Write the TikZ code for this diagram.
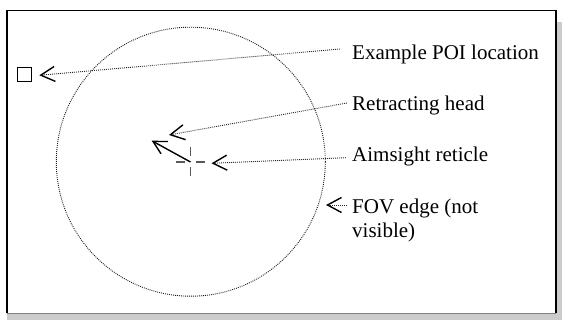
\documentclass[tikz,border=0pt]{standalone}
\usepackage{fontspec}
\setmainfont{Liberation Serif}
\usetikzlibrary{arrows.meta}

\tikzset{
  label/.style={anchor=west, inner sep=0pt, font=\fontsize{21}{24}\selectfont, align=left},
  pointer/.style={line width=0.9pt, black!85, dash pattern=on 0.9pt off 1.1pt,
    -{Straight Barb[length=14pt,width=15pt,line width=1.4pt,black]}},
  reticle/.style={line width=1.3pt, black!65}
}

\begin{document}
\begin{tikzpicture}[x=1pt,y=-1pt]
\useasboundingbox (0,0) rectangle (562,320);

% window with shadow
\fill[black!20] (7,21.7) rectangle (562,320);
\fill[white] (7,10.5) rectangle (556,313.3);
\draw[line width=1.2pt] (7,313.3) -- (7,10.5) -- (556,10.5) -- (556,313.3);
\draw[line width=1.5pt, black!50] (7,313.3) -- (556,313.3);

% field of view and marks
\node[circle, draw, line width=0.9pt, black!90, dash pattern=on 0.9pt off 1.1pt,
  minimum size=269pt, inner sep=0pt] (fov) at (190.8,161.7) {};
\node[draw, line width=0.9pt, minimum width=14pt, minimum height=14pt, inner sep=0pt] (poi) at (24.4,74.3) {};
\coordinate (ret) at (190.5,162);
\coordinate (head) at (151.7,140.7);
\foreach \a in {0,90,180,270}
  \draw[reticle] (ret) ++(\a:5.5) -- ++(\a:9);
\draw[line width=1.4pt, -{Straight Barb[length=13pt,width=14pt]}] (ret) -- (head);

% labels
\node[label] (poilabel) at (352,54) {Example POI location};
\node[label] (headlabel) at (352,105) {Retracting head};
\node[label] (retlabel) at (352,156.7) {Aimsight reticle};
\node[label] (fovlabel) at (352,220) {FOV edge (not\\visible)};

\coordinate (headtip) at (169,135);
\coordinate (rettip) at (211.5,163.3);
\coordinate (fovtip) at (326,205);

\draw[pointer] ([xshift=-12pt,yshift=5pt]poilabel.west) -- ([xshift=7.5pt,yshift=-1pt]poi.east);
\draw[pointer] ([xshift=-5pt,yshift=2pt]headlabel.west) -- (headtip);
\draw[pointer] ([xshift=-6pt,yshift=-1pt]retlabel.west) -- (rettip);
\draw[pointer] ([xshift=-5pt]fovlabel.west |- fovtip) -- (fovtip);
\end{tikzpicture}
\end{document}
